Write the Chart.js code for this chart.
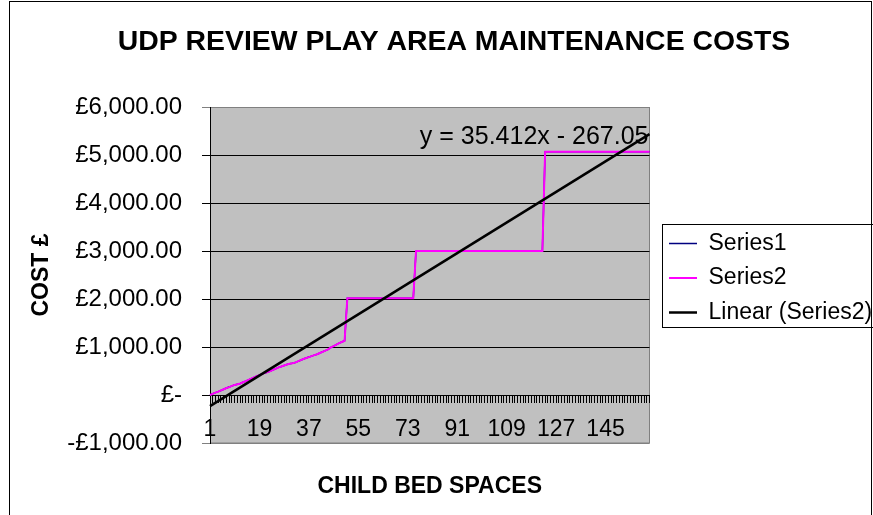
<!DOCTYPE html>
<html lang="en">
<head>
<meta charset="UTF-8">
<title>UDP Review Play Area Maintenance Costs</title>
<script src="https://cdn.jsdelivr.net/npm/chart.js"></script>
<style>
  html, body { margin: 0; padding: 0; background: #fff; }
  canvas { display: block; }
</style>
</head>
<body>
<canvas id="grafico" width="873" height="515"></canvas>
<script>
  // Categorías: plazas de cama infantil 1..161
  const camas = Array.from({ length: 161 }, (_, i) => i + 1);

  // Coste (£) por número de plazas
  const serie2 = [
    0, 25, 50, 70, 95, 120, 145, 165, 190, 210,
    225, 240, 265, 290, 315, 340, 365, 390, 415, 440,
    460, 480, 500, 525, 550, 575, 595, 615, 635, 650,
    660, 675, 700, 725, 750, 770, 790, 810, 830, 850,
    875, 900, 925, 950, 990, 1020, 1050, 1080, 1105, 1130,
    2015, 2015, 2015, 2015, 2015, 2015, 2015, 2015, 2015, 2015,
    2015, 2015, 2015, 2015, 2015, 2015, 2015, 2015, 2015, 2015,
    2015, 2015, 2015, 2015, 2015,
    3000, 3000, 3000, 3000, 3000, 3000, 3000, 3000, 3000, 3000,
    3000, 3000, 3000, 3000, 3000, 3000, 3000, 3000, 3000, 3000,
    3000, 3000, 3000, 3000, 3000, 3000, 3000, 3000, 3000, 3000,
    3000, 3000, 3000, 3000, 3000, 3000, 3000, 3000, 3000, 3000,
    3000, 3000, 3000, 3000, 3000, 3000, 3000,
    5070, 5070, 5070, 5070, 5070, 5070, 5070, 5070, 5070, 5070,
    5070, 5070, 5070, 5070, 5070, 5070, 5070, 5070, 5070, 5070,
    5070, 5070, 5070, 5070, 5070, 5070, 5070, 5070, 5070, 5070,
    5070, 5070, 5070, 5070, 5070, 5070, 5070, 5070, 5070
  ];
  // Series1 queda oculta debajo de Series2
  const serie1 = serie2.slice();

  // Línea de tendencia de Excel: y = 35.412x - 267.05
  const PENDIENTE = 35.412;
  const ORDENADA = -267.05;
  const tendencia = camas.map((c, i) =>
    (i === 0 || i === camas.length - 1) ? PENDIENTE * c + ORDENADA : null);

  const yTicks = [-1000, 0, 1000, 2000, 3000, 4000, 5000, 6000];

  const FUENTE = '"Liberation Sans", Arial, sans-serif';
  Chart.defaults.font.family = FUENTE;
  Chart.defaults.color = '#000';

  function libras(v) {
    if (v === 0) return '£-';
    const s = '£' + Math.abs(v).toLocaleString('en-GB', { minimumFractionDigits: 2, maximumFractionDigits: 2 });
    return v < 0 ? '-' + s : s;
  }

  const fondo = {
    id: 'fondo',
    beforeDraw(chart) {
      const { ctx, chartArea: a } = chart;
      ctx.save();
      ctx.fillStyle = '#fff';
      ctx.fillRect(0, 0, chart.width, chart.height);
      ctx.strokeStyle = '#000';
      ctx.lineWidth = 1;
      ctx.strokeRect(9.5, 1.5, 862, 600);
      ctx.fillStyle = '#C0C0C0';
      ctx.fillRect(a.left, a.top, a.width, a.height);
      ctx.strokeStyle = '#808080';
      ctx.strokeRect(a.left + 0.5, a.top + 0.5, a.width - 0.5, a.height - 0.5);
      ctx.restore();
    },
    afterDatasetsDraw(chart) {
      const { ctx, chartArea: a } = chart;
      ctx.save();
      ctx.font = '25px ' + FUENTE;
      ctx.fillStyle = '#000';
      ctx.textAlign = 'right';
      ctx.textBaseline = 'middle';
      ctx.fillText('y = ' + PENDIENTE + 'x - ' + Math.abs(ORDENADA), a.right - 1, a.top + 30);
      ctx.restore();
    }
  };

  const leyenda = {
    id: 'leyenda',
    afterLayout(chart) {
      const l = chart.legend;
      l.left += 8;
      l.right = chart.width + 10;
      l.top += 3; l.bottom += 3;
    },
    afterDraw(chart) {
      const l = chart.legend;
      const cajas = l.legendHitBoxes;
      if (!cajas.length) return;
      const top = cajas[0].top - 8;
      const ult = cajas[cajas.length - 1];
      const bottom = ult.top + ult.height + 3;
      const ctx = chart.ctx;
      ctx.save();
      ctx.strokeStyle = '#000';
      ctx.lineWidth = 1;
      ctx.strokeRect(Math.round(l.left + 4) + 0.5, Math.round(top) + 0.5, 400, Math.round(bottom - top));
      ctx.restore();
    }
  };

  new Chart(document.getElementById('grafico'), {
    type: 'line',
    data: {
      labels: camas,
      datasets: [
        { label: 'Series1', data: serie1, borderColor: '#000080', backgroundColor: '#000080',
          borderWidth: 1.5, pointRadius: 0, tension: 0, order: 3 },
        { label: 'Series2', data: serie2, borderColor: '#FF00FF', backgroundColor: '#FF00FF',
          borderWidth: 2, pointRadius: 0, tension: 0, order: 2 },
        { label: 'Linear (Series2)', data: tendencia, borderColor: '#000', backgroundColor: '#000',
          borderWidth: 2.5, pointRadius: 0, tension: 0, spanGaps: true, order: 1 }
      ]
    },
    options: {
      responsive: false,
      animation: false,
      layout: { padding: { left: 63, top: 1, right: 28, bottom: 72 } },
      plugins: {
        title: {
          display: true,
          text: 'UDP REVIEW PLAY AREA MAINTENANCE COSTS',
          font: { size: 28.4, weight: 'bold' },
          padding: { top: 23.96, bottom: 47.96 },
          color: '#000'
        },
        legend: {
          position: 'right',
          fullSize: false,
          labels: {
            font: { size: 23 },
            usePointStyle: true,
            pointStyle: 'line',
            pointStyleWidth: 28,
            padding: 11.5,
            color: '#000',
            sort: (a, b) => a.datasetIndex - b.datasetIndex
          }
        },
        tooltip: { enabled: false }
      },
      scales: {
        x: {
          type: 'category',
          position: { y: 0 },
          offset: false,
          grid: { drawOnChartArea: false, tickLength: 7, color: '#000' },
          border: { color: '#000' },
          ticks: {
            autoSkip: false, maxRotation: 0, minRotation: 0, padding: 14,
            font: { size: 23 },
            callback(v, i) { return i % 18 === 0 ? this.getLabelForValue(v) : ''; }
          },
          title: {
            display: true, text: 'CHILD BED SPACES',
            font: { size: 23, weight: 'bold' },
            padding: { top: 15.6, bottom: 0 }
          }
        },
        y: {
          min: yTicks[0],
          max: yTicks[yTicks.length - 1],
          afterBuildTicks(s) { s.ticks = yTicks.map(v => ({ value: v })); },
          afterFit(s) { s.width = 147; },
          ticks: { padding: 20, font: { size: 24 }, callback: libras },
          grid: {
            tickLength: 8,
            color: c => (c.tick && (c.tick.value === 6000 || c.tick.value === -1000)) ? '#808080' : '#000'
          },
          border: { color: '#000' },
          title: {
            display: true, text: 'COST £',
            font: { size: 23, weight: 'bold' },
            padding: { top: -34.8, bottom: 0 }
          }
        }
      }
    },
    plugins: [fondo, leyenda]
  });
</script>
</body>
</html>
